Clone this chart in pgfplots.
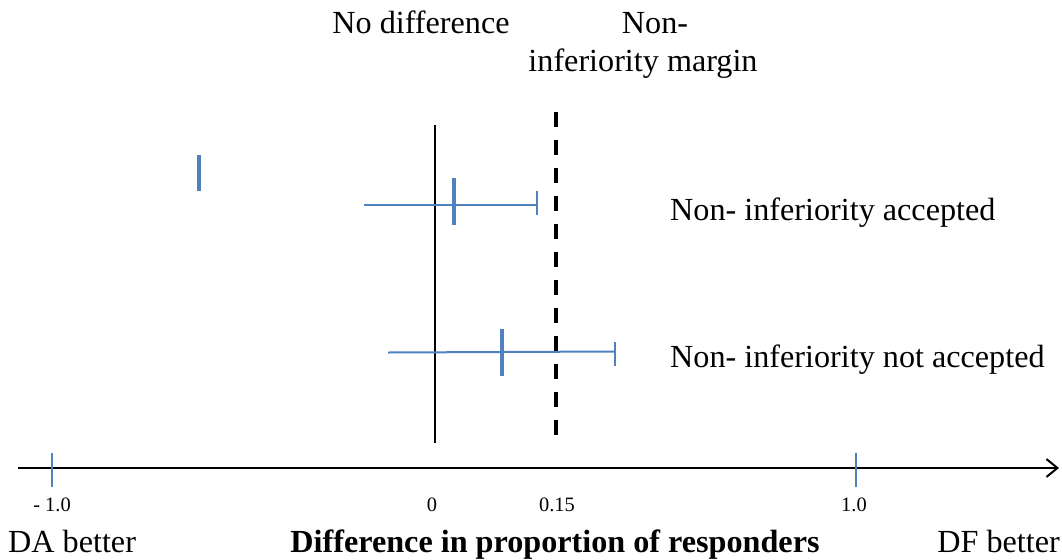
\documentclass[border=0pt]{standalone}
\usepackage{pgfplots}
\pgfplotsset{compat=1.18}
\usepackage{fontspec}
\setmainfont{Liberation Serif}
\usetikzlibrary{arrows.meta}
\definecolor{ciblue}{HTML}{4F81BD}
\begin{document}
\begin{tikzpicture}
\begin{axis}[
  width=1062bp, height=559bp, scale only axis,
  xmin=0, xmax=1062, ymin=0, ymax=559, y dir=reverse,
  hide axis, clip=false,
]
% frame extent (invisible)
\addplot[draw=none] coordinates {(0,0) (1062,559)};
% horizontal axis with arrow
\addplot[black, line width=2.4bp, -{Straight Barb[length=11bp,width=18bp,line width=2bp]}] coordinates {(18,468) (1059,468)};
% blue ticks at -1.0 and 1.0
\addplot[ciblue, line width=2bp] coordinates {(52,453) (52,487)};
\addplot[ciblue, line width=2bp] coordinates {(856,453) (856,487)};
% no difference line
\addplot[black, line width=2.5bp] coordinates {(435,125) (435,443)};
% non-inferiority margin (dashed)
\addplot[black, line width=4bp, dash pattern=on 15bp off 13bp] coordinates {(556,112) (556,437)};
% small blue mark
\addplot[ciblue, line width=4bp] coordinates {(199,155) (199,191)};
% upper CI
\addplot[ciblue, line width=2bp] coordinates {(364,205) (537,205)};
\addplot[ciblue, line width=2bp] coordinates {(537,191) (537,215)};
\addplot[ciblue, line width=4bp] coordinates {(454,178) (454,225)};
% lower CI
\addplot[ciblue, line width=2bp] coordinates {(388,352.5) (615,351.5)};
\addplot[ciblue, line width=2bp] coordinates {(615,342) (615,366)};
\addplot[ciblue, line width=4bp] coordinates {(502,329) (502,376)};
% texts
\node[anchor=base, font=\fontsize{32.3}{38}\selectfont] at (axis cs:421,34) {No difference};
\node[anchor=base, font=\fontsize{32.3}{38}\selectfont] at (axis cs:655,34) {Non-};
\node[anchor=base, font=\fontsize{32.3}{38}\selectfont] at (axis cs:643,72) {inferiority margin};
\node[anchor=base west, inner sep=0pt, font=\fontsize{32.3}{38}\selectfont] at (axis cs:670,220) {Non- inferiority accepted};
\node[anchor=base west, inner sep=0pt, font=\fontsize{32.3}{38}\selectfont] at (axis cs:670,367) {Non- inferiority not accepted};
% tick labels
\node[anchor=base, font=\fontsize{20.5}{24}\selectfont] at (axis cs:52,511) {- 1.0};
\node[anchor=base, font=\fontsize{20.5}{24}\selectfont] at (axis cs:432,511) {0};
\node[anchor=base, font=\fontsize{20.5}{24}\selectfont] at (axis cs:557,511) {0.15};
\node[anchor=base, font=\fontsize{20.5}{24}\selectfont] at (axis cs:854,511) {1.0};
% bottom labels
\node[anchor=base west, inner sep=0pt, font=\fontsize{32.3}{38}\selectfont] at (axis cs:8,552) {DA better};
\node[anchor=base, inner sep=0pt, font=\bfseries\fontsize{32.3}{38}\selectfont] at (axis cs:555,552) {Difference in proportion of responders};
\node[overlay, anchor=base east, inner sep=0pt, font=\fontsize{32.3}{38}\selectfont] at (axis cs:1060,552) {DF better};
\end{axis}
\end{tikzpicture}
\end{document}
